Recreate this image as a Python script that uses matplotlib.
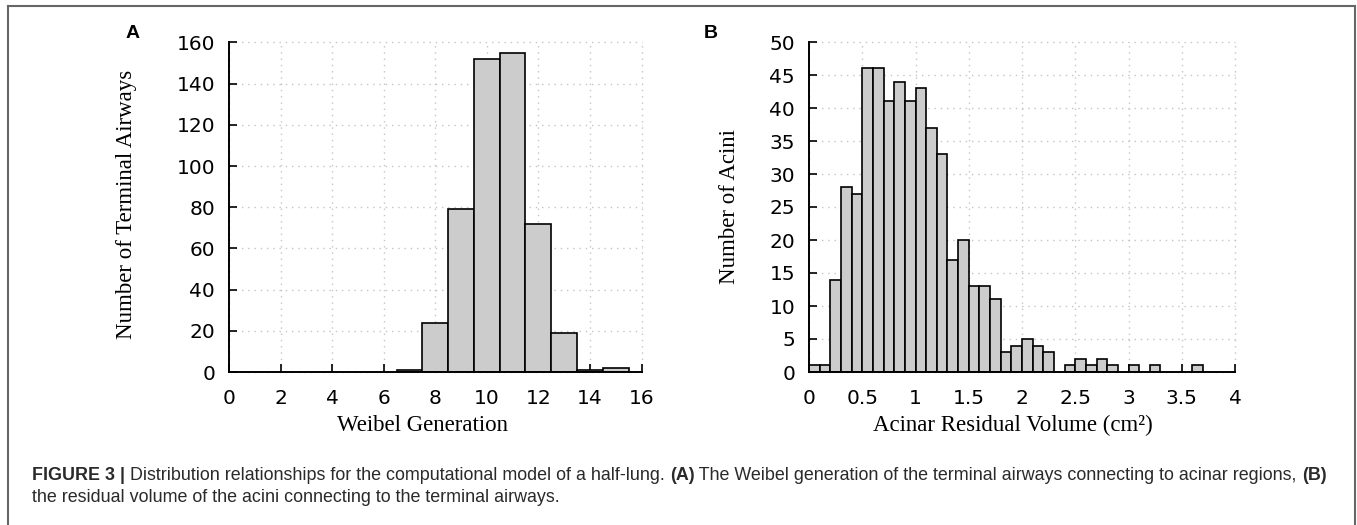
import matplotlib
matplotlib.use("Agg")
import matplotlib.pyplot as plt
from matplotlib.lines import Line2D
from matplotlib.ticker import FuncFormatter

# panel A: Weibel generation of terminal airways
gen = [7, 8, 9, 10, 11, 12, 13, 14, 15]
gen_counts = [1, 24, 79, 152, 155, 72, 19, 1, 2]

# panel B: acinar residual volume, bins of 0.1 cm^2 (left edges)
vol_left = [0.0, 0.1, 0.2, 0.3, 0.4, 0.5, 0.6, 0.7, 0.8, 0.9, 1.0, 1.1,
            1.2, 1.3, 1.4, 1.5, 1.6, 1.7, 1.8, 1.9, 2.0, 2.1, 2.2,
            2.4, 2.5, 2.6, 2.7, 2.8, 3.0, 3.2, 3.6]
vol_counts = [1, 1, 14, 28, 27, 46, 46, 41, 44, 41, 43, 37,
              33, 17, 20, 13, 13, 11, 3, 4, 5, 4, 3,
              1, 2, 1, 2, 1, 1, 1, 1]

W, H = 1357, 525
fig = plt.figure(figsize=(W / 100, H / 100), dpi=100)

serif = "Liberation Serif"
lab_size = 16.5
bar_kw = dict(color="#cccccc", edgecolor="black", linewidth=1.2, zorder=3)


def style(ax, xmax, ymax, xstep, ystep):
    for s in ["top", "right"]:
        ax.spines[s].set_visible(False)
    for s in ["left", "bottom"]:
        ax.spines[s].set_linewidth(1.4)
        ax.spines[s].set_zorder(4)
    ax.set_xlim(0, xmax)
    ax.set_ylim(0, ymax)
    xt = [i * xstep for i in range(int(round(xmax / xstep)) + 1)]
    yt = [i * ystep for i in range(int(round(ymax / ystep)) + 1)]
    ax.set_xticks(xt)
    ax.set_yticks(yt)
    fmt = FuncFormatter(lambda v, p: ("%g" % v))
    ax.xaxis.set_major_formatter(fmt)
    ax.tick_params(direction="in", length=6, width=1.2, labelsize=14.5,
                   top=False, right=False)
    ax.tick_params(axis="x", pad=12.5)
    ax.tick_params(axis="y", pad=10)
    ax.grid(True, color="#c4c4c4", linestyle=(0, (1, 3.5)), linewidth=1.0)
    ax.set_axisbelow(True)
    for g in ax.get_xgridlines() + ax.get_ygridlines():
        g.set_clip_on(False)


# panel A
axA = fig.add_axes([229 / W, (H - 372) / H, 412.5 / W, 329.5 / H])
axA.bar(gen, gen_counts, width=1.0, **bar_kw)
style(axA, 16, 160, 2, 20)
axA.set_xlabel("Weibel Generation", family=serif, fontsize=lab_size)
axA.set_ylabel("Number of Terminal Airways", family=serif, fontsize=lab_size)
axA.xaxis.set_label_coords(0.47, -0.13)
axA.yaxis.set_label_coords(-0.223, 0.51)

# panel B
axB = fig.add_axes([809 / W, (H - 372) / H, 426 / W, 330 / H])
axB.bar(vol_left, vol_counts, width=0.1, align="edge", **bar_kw)
style(axB, 4, 50, 0.5, 5)
axB.set_xlabel("Acinar Residual Volume (cm²)", family=serif, fontsize=lab_size)
axB.set_ylabel("Number of Acini", family=serif, fontsize=lab_size)
axB.xaxis.set_label_coords(0.479, -0.13)
axB.yaxis.set_label_coords(-0.162, 0.5)

# panel letters
fig.text(133 / W, 1 - 33 / H, "A", family="Liberation Sans", weight="bold",
         fontsize=14, ha="center", va="center")
fig.text(711 / W, 1 - 33 / H, "B", family="Liberation Sans", weight="bold",
         fontsize=14, ha="center", va="center")

# caption, pieces chained one after another
cap_size = 12.9
cap_color = "#2a2a2a"


def caption_line(parts, x, y):
    prev = None
    for txt, bold in parts:
        kw = dict(family="Liberation Sans", fontsize=cap_size, color=cap_color,
                  fontweight="bold" if bold else "normal",
                  annotation_clip=False)
        if prev is None:
            prev = axA.annotate(txt, xy=(x, y), xycoords="figure pixels",
                                ha="left", va="baseline", **kw)
        else:
            prev = axA.annotate(txt, xy=(1, 0), xycoords=prev,
                                ha="left", va="bottom", **kw)


caption_line([("FIGURE 3 |", True),
              (" Distribution relationships for the computational model of a half-lung. ", False),
              ("(A)", True),
              (" The Weibel generation of the terminal airways connecting to acinar regions, ", False),
              ("(B)", True)], 32, H - 480)
caption_line([("the residual volume of the acini connecting to the terminal airways.", False)],
             32, H - 502)

# outer frame
fc = "#666666"
fig.add_artist(Line2D([8 / W, 1355 / W], [1 - 6 / H, 1 - 6 / H], color=fc, linewidth=1.5))
fig.add_artist(Line2D([8 / W, 8 / W], [0, 1 - 6 / H], color=fc, linewidth=1.5))
fig.add_artist(Line2D([1355 / W, 1355 / W], [0, 1 - 6 / H], color=fc, linewidth=1.5))

fig.savefig("out.png", dpi=100)
